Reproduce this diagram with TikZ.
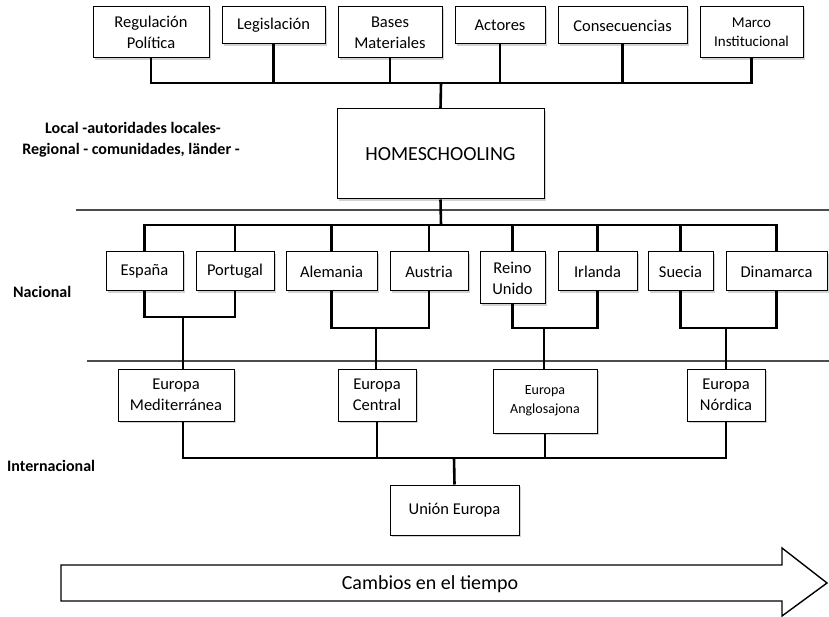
\documentclass[tikz,border=0pt]{standalone}
\usepackage{fontspec}
\setmainfont{Carlito}
\usetikzlibrary{shadows}

\begin{document}
\begin{tikzpicture}[
  x=1pt, y=-1pt,
  font=\fontsize{16.5}{21}\selectfont,
  caja/.style 2 args={draw=black, line width=1pt, fill=white, align=center, inner sep=0pt,
    minimum width=#1, minimum height=#2,
    drop shadow={shadow xshift=2pt, shadow yshift=-2pt, fill=black!35}},
  chica/.style={font=\fontsize{15}{19}\selectfont},
  grande/.style={font=\fontsize{20}{24}\selectfont},
  etiqueta/.style={font=\bfseries\fontsize{16}{18}\selectfont, inner sep=0pt},
  conector/.style={draw=black, line width=2.6pt},
  divisor/.style={draw=black!70, line width=1.3pt},
  flecha/.style={draw=black, line width=1.4pt, fill=white}
]
\useasboundingbox (0,0) rectangle (829,617);

% Fila 1 (dimensiones de análisis)
\node[caja={116pt}{51pt}] (regpol)  at (151,32.5)   {Regulación\\Política};
\node[caja={103pt}{37pt}] (legis)   at (273.5,25.5) {Legislación};
\node[caja={104pt}{51pt}] (bases)   at (390,32.5)   {Bases\\Materiales};
\node[caja={90pt}{37pt}]  (actores) at (500,25.5)   {Actores};
\node[caja={129pt}{37pt}] (consec)  at (622.5,25.5) {Consecuencias};
\node[caja={103pt}{51pt}, chica] (marco) at (751.5,32.5) {Marco\\Institucional};

% Nodo central
\node[caja={207pt}{90pt}, grande] (home) at (440.5,154) {HOMESCHOOLING};

% Fila 2 (países)
\node[caja={77pt}{39pt}]  (espana)    at (144.5,271.5) {España};
\node[caja={78pt}{39pt}]  (portugal)  at (235,271.5)   {Portugal};
\node[caja={91pt}{39pt}]  (aleman)    at (331.5,271.5) {Alemania};
\node[caja={78pt}{39pt}]  (austria)   at (429,271.5)   {Austria};
\node[caja={65pt}{52pt}]  (reino)     at (512.5,278)   {Reino\\Unido};
\node[caja={79pt}{39pt}]  (irlanda)   at (597.5,271.5) {Irlanda};
\node[caja={65pt}{39pt}]  (suecia)    at (680.5,271.5) {Suecia};
\node[caja={101pt}{39pt}] (dinamarca) at (776.5,271.5) {Dinamarca};

% Fila 3 (regiones europeas)
\node[caja={116pt}{52pt}] (medit)   at (176,395) {Europa\\Mediterránea};
\node[caja={78pt}{52pt}]  (central) at (377,395) {Europa\\Central};
\node[caja={104pt}{64pt}, font=\fontsize{14}{19}\selectfont] (anglo) at (545,401) {Europa\\Anglosajona};
\node[caja={78pt}{52pt}]  (nordica) at (726,395) {Europa\\Nórdica};

% Fila 4
\node[caja={129pt}{50pt}] (union) at (454.5,510) {Unión Europa};

% Niveles (a la izquierda)
\node[etiqueta] (local)    at (133,128) {Local -autoridades locales-};
\node[etiqueta] (regional) at (131,150) {Regional - comunidades, länder -};
\node[etiqueta, anchor=west] (nacional) at (13,292)  {Nacional};
\node[etiqueta, anchor=west] (internac) at (7,466)   {Internacional};

% Separadores
\draw[divisor] (76,210) -- (829,210);
\draw[divisor] (87,361) -- (829,361);

% Conexiones fila 1 -> nodo central
\coordinate (busTemas) at (441,83);
\draw[conector] (regpol.south) |- (busTemas) -| (marco.south);
\foreach \n in {legis,bases,actores,consec}
  \draw[conector] (\n.south) -- (\n.south |- busTemas);
\draw[conector] (busTemas) -- (home.north);

% Nodo central -> países
\coordinate (busPaises) at (441,225);
\draw[conector] (espana.north) |- (busPaises) -| (dinamarca.north);
\foreach \n in {portugal,aleman,austria,reino,irlanda,suecia}
  \draw[conector] (\n.north) -- (\n.north |- busPaises);
\draw[conector] (home.south) -- (busPaises);

% Países -> regiones (por pares)
\coordinate (uMed) at (183,317);
\coordinate (uCen) at (376,328);
\coordinate (uAng) at (544,328);
\coordinate (uNor) at (726,328);
\foreach \a/\b/\u/\r in {espana/portugal/uMed/medit, aleman/austria/uCen/central,
    reino/irlanda/uAng/anglo, suecia/dinamarca/uNor/nordica} {
  \draw[conector] (\a.south) |- (\u) -| (\b.south);
  \draw[conector] (\u) -- (\u |- \r.north);
}

% Regiones -> Unión Europea
\coordinate (busRegiones) at (454,458);
\draw[conector] (uMed |- medit.south) |- (busRegiones) -| (nordica.south);
\draw[conector] (central.south) -- (central.south |- busRegiones);
\draw[conector] (anglo.south) -- (anglo.south |- busRegiones);
\draw[conector] (busRegiones) -- (union.north);

% Flecha del tiempo
\draw[flecha] (61,565) -- (782,565) -- (782,548) -- (827,583) -- (782,616)
  -- (782,601) -- (61,601) -- cycle;
\node[grande] (cambios) at (430,584) {Cambios en el tiempo};
\end{tikzpicture}
\end{document}
